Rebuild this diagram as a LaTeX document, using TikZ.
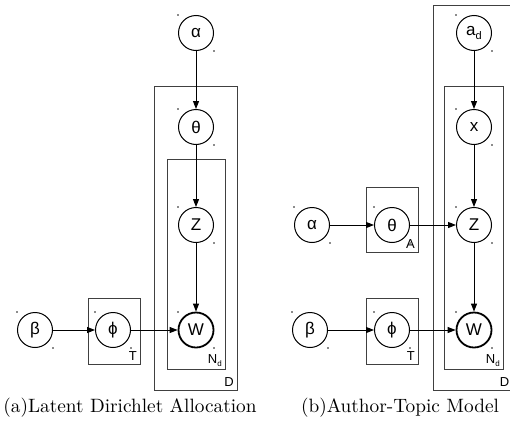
\documentclass[tikz,border=0pt]{standalone}
\usepackage{fontspec}
\newfontfamily\labelfont{Liberation Sans}
\usetikzlibrary{arrows.meta,calc}
\tikzset{
  var/.style={circle, draw, line width=1pt, minimum size=35pt, inner sep=0pt, font=\labelfont\fontsize{17}{17}\selectfont},
  obs/.style={var, line width=1.8pt},
  plate/.style={draw=black!75, line width=1pt},
  platelabel/.style={anchor=south east, inner sep=0pt, font=\labelfont\fontsize{13}{13}\selectfont},
  edge/.style={line width=1pt, -{Triangle[length=8pt,width=6pt]}},
  caption/.style={anchor=base, scale=1.93, inner sep=0pt},
  speck/.style={fill=black!45, draw=none, minimum size=1.2pt, inner sep=0pt, rectangle}
}
\newcommand{\specks}[1]{%
  \node[speck] at ($(#1)+(-18,-18)$) {};
  \node[speck] at ($(#1)+(18,18)$) {};}
\newcommand{\lowsub}[2]{\raisebox{-0.45ex}{\fontsize{#1}{#1}\selectfont #2}}
\begin{document}
\begin{tikzpicture}[x=1pt,y=-1pt]
\useasboundingbox (0,0) rectangle (510,423);
\clip (0,0) rectangle (510,423);
% ---------- (a) LDA ----------
\draw[plate] (154,86) rectangle (237,390);
\node[platelabel] (aDl) at (234,387) {D};
\draw[plate] (167,159) rectangle (225,369);
\node[platelabel] (aNl) at (222,367) {N\lowsub{8}{d}};
\draw[plate] (88,298) rectangle (140,364);
\node[platelabel] (aTl) at (137,361) {T};

\node[var] (aalpha) at (196,33) {α};
\node[var] (atheta) at (196,127) {θ};
\node[var] (az) at (196,225) {Z};
\node[obs] (aw) at (196,330) {W};
\node[var] (abeta) at (35,330) {β};
\node[var] (aphi) at (113,330) {ϕ};
\foreach \n in {aalpha,atheta,az,aw,abeta,aphi} {\specks{\n}}

\draw[edge] (aalpha) -- (atheta);
\draw[edge] (atheta) -- (az);
\draw[edge] (az) -- (aw);
\draw[edge] (abeta) -- (aphi);
\draw[edge] (aphi) -- (aw);

\node[caption] (capa) at (130,412) {(a)Latent Dirichlet Allocation};

% ---------- (b) Author-Topic ----------
\draw[plate] (433,5) rectangle (516,390);
\node[platelabel] (bDl) at (509.5,387) {D};
\draw[plate] (444,86) rectangle (503,369);
\node[platelabel] (bNl) at (500,367) {N\lowsub{8}{d}};
\draw[plate] (366,187) rectangle (418,252);
\node[platelabel] (bAl) at (415,249) {A};
\draw[plate] (366,298) rectangle (418,364);
\node[platelabel] (bTl) at (415,361) {T};

\node[var] (bad) at (474,33) {a\lowsub{11}{d}};
\node[var] (bx) at (474,127) {x};
\node[var] (bz) at (474,225) {Z};
\node[obs] (bw) at (474,330) {W};
\node[var] (balpha) at (312,225) {α};
\node[var] (btheta) at (392,225) {θ};
\node[var] (bbeta) at (310,330) {β};
\node[var] (bphi) at (392,330) {ϕ};
\foreach \n in {bad,bx,bz,bw,balpha,btheta,bbeta,bphi} {\specks{\n}}

\draw[edge] (bad) -- (bx);
\draw[edge] (bx) -- (bz);
\draw[edge] (bz) -- (bw);
\draw[edge] (balpha) -- (btheta);
\draw[edge] (btheta) -- (bz);
\draw[edge] (bbeta) -- (bphi);
\draw[edge] (bphi) -- (bw);

\node[caption] (capb) at (400,412) {(b)Author-Topic Model};
\end{tikzpicture}
\end{document}
